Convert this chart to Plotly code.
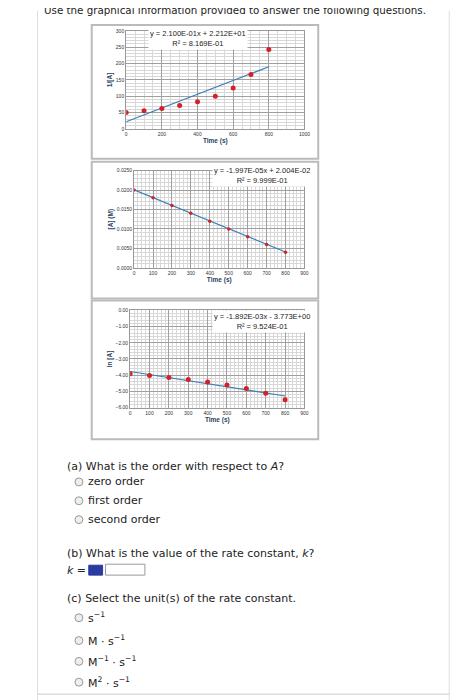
import plotly.graph_objects as go

W, H = 463, 700
time_s = [0, 100, 200, 300, 400, 500, 600, 700, 800]
conc_A = [0.0200, 0.0180, 0.0160, 0.0140, 0.0120, 0.0100, 0.0080, 0.0060, 0.0040]
inv_A = [50.0, 55.6, 62.5, 71.4, 83.3, 100.0, 125.0, 166.7, 243.0]
ln_A = [-3.91, -4.02, -4.14, -4.27, -4.42, -4.61, -4.83, -5.12, -5.52]
fits = [(0.2100, 22.12), (-1.997e-05, 2.004e-02), (-1.892e-03, -3.773)]
eq_text = ["y = 2.100E-01x + 2.212E+01<br>R² = 8.169E-01",
           "y = -1.997E-05x + 2.004E-02<br>R² = 9.999E-01",
           "y = -1.892E-03x - 3.773E+00<br>R² = 9.524E-01"]
ytitles = ["1/[A]", "[A] (M)", "ln [A]"]

OFF = 8  # page body margin
def px(x): return (x - OFF) / W
def py(y): return 1 - (y - OFF) / H

fig = go.Figure()
plots = [
    dict(x=(127, 308), y=(28, 127), xr=[0, 1000], xd=200, yr=[0, 300], yd=50, fmt="d", data=inv_A),
    dict(x=(135, 308), y=(169, 267), xr=[0, 900], xd=100, yr=[0, 0.025], yd=0.005, fmt=".4f", data=conc_A),
    dict(x=(131, 308), y=(310, 408), xr=[0, 900], xd=100, yr=[-6, 0], yd=1, fmt=".2f", data=ln_A),
]
boxes = [(92, 22, 322, 157), (92, 160, 322, 298), (92, 300, 322, 440)]
shapes = []
annots = []
for i, p in enumerate(plots):
    n = "" if i == 0 else str(i + 1)
    xa, ya = "x" + n, "y" + n
    m, b = fits[i]
    fig.add_trace(go.Scatter(x=[0, 800], y=[b, m * 800 + b], mode="lines",
                             line=dict(color="#3a7fb5", width=1.2), xaxis=xa, yaxis=ya, showlegend=False))
    fig.add_trace(go.Scatter(x=time_s, y=p["data"], mode="markers",
                             marker=dict(color="#d4202a", size=5 if i != 1 else 3.5),
                             xaxis=xa, yaxis=ya, showlegend=False))
    grid = dict(showgrid=True, gridcolor="#a0a0a0", gridwidth=0.8,
                minor=dict(showgrid=True, gridcolor="#d8d8d8", gridwidth=0.5, nticks=6 if i == 0 else 5),
                tickfont=dict(size=5, family="Arial", color="#333"), zeroline=False,
                showline=True, linecolor="#999", mirror=True, ticks="")
    fig.update_layout(**{
        ("xaxis" + n): dict(domain=[px(p["x"][0]), px(p["x"][1])], range=p["xr"], dtick=p["xd"],
                            anchor=ya, title=dict(text="<b>Time (s)</b>", font=dict(size=6.5, family="Arial"), standoff=2), **grid),
        ("yaxis" + n): dict(domain=[py(p["y"][1]), py(p["y"][0])], range=p["yr"], dtick=p["yd"],
                            tickformat=p["fmt"], anchor=xa,
                            title=dict(text="<b>" + ytitles[i] + "</b>", font=dict(size=6.5, family="Arial"), standoff=2), **grid),
    })
    bx = boxes[i]
    shapes.append(dict(type="rect", xref="paper", yref="paper", x0=px(bx[0]), x1=px(bx[2]),
                       y0=py(bx[3]), y1=py(bx[1]), line=dict(color="#bbb", width=2)))
    ex = 200 if i == 0 else 265
    ey = [36, 174, 321][i]
    annots.append(dict(xref="paper", yref="paper", x=px(ex), y=py(ey), text=eq_text[i], showarrow=False,
                       font=dict(size=7.5, family="Arial", color="#222"), bgcolor="white", align="center",
                       xanchor="center", yanchor="middle"))

shapes += [dict(type="line", xref="paper", yref="paper", x0=px(37), x1=px(37), y0=0, y1=1, line=dict(color="#ddd", width=1)),
           dict(type="line", xref="paper", yref="paper", x0=px(455), x1=px(455), y0=0, y1=1, line=dict(color="#ddd", width=1)),
           dict(type="line", xref="paper", yref="paper", x0=px(37), x1=px(455), y0=py(697), y1=py(697), line=dict(color="#ccc", width=1))]

def txt(x, y, t, size=11):
    annots.append(dict(xref="paper", yref="paper", x=px(x), y=py(y), text=t, showarrow=False,
                       xanchor="left", yanchor="middle", font=dict(size=size, family="DejaVu Sans", color="#222")))

def radio(x, y):
    shapes.append(dict(type="circle", xref="paper", yref="paper", x0=px(x - 4), x1=px(x + 4),
                       y0=py(y + 4), y1=py(y - 4), line=dict(color="#999", width=1), fillcolor="#eee"))

txt(42, 7, "Use the graphical information provided to answer the following questions.", 10.3)
txt(65, 467, "(a) What is the order with respect to <i>A</i>?")
for yy, t in [(483, "zero order"), (502, "first order"), (521, "second order")]:
    radio(79, yy); txt(86, yy, t)
txt(65, 555, "(b) What is the value of the rate constant, <i>k</i>?")
txt(65, 572, "<i>k</i> =")
shapes.append(dict(type="rect", xref="paper", yref="paper", x0=px(89), x1=px(103), y0=py(577), y1=py(567),
                   fillcolor="#2a3c9e", line=dict(color="#2a3c9e", width=1)))
shapes.append(dict(type="rect", xref="paper", yref="paper", x0=px(106), x1=px(146), y0=py(577), y1=py(566),
                   fillcolor="white", line=dict(color="#999", width=1)))
txt(65, 601, "(c) Select the unit(s) of the rate constant.")
for yy, t in [(620, "s<sup>−1</sup>"), (643, "M · s<sup>−1</sup>"), (664, "M<sup>−1</sup> · s<sup>−1</sup>"), (685, "M<sup>2</sup> · s<sup>−1</sup>")]:
    radio(79, yy); txt(86, yy, t)

fig.update_layout(width=W, height=H, margin=dict(l=0, r=0, t=0, b=0), paper_bgcolor="white",
                  plot_bgcolor="white", shapes=shapes, annotations=annots)
fig.write_html("out.html")
